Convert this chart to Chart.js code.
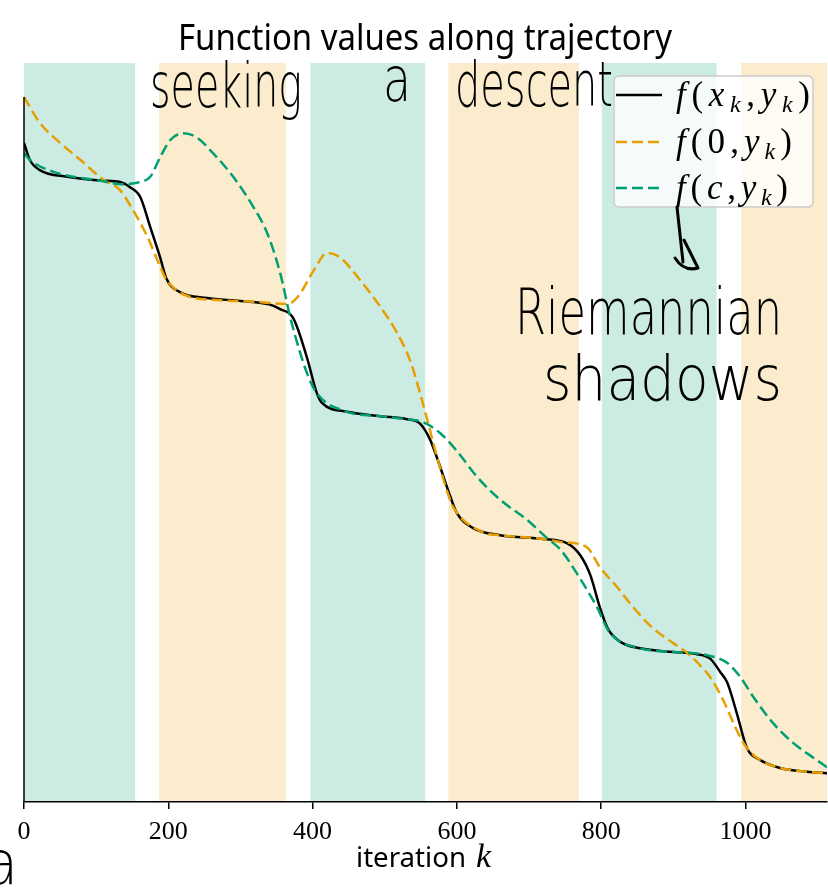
<!DOCTYPE html>
<html>
<head>
<meta charset="utf-8">
<script src="https://cdn.jsdelivr.net/npm/chart.js@4/dist/chart.umd.min.js"></script>
<style>
  html, body { margin: 0; padding: 0; background: #ffffff; }
  #wrap { width: 828px; height: 892px; position: relative; }
</style>
</head>
<body>
<div id="wrap"><canvas id="c" width="828" height="892"></canvas></div>
<script>
// ---- data ----
const iterTicks = [0, 200, 400, 600, 800, 1000];
const kMax = 1113;

// alternating phases: 'c' = f(c, y) phase, '0' = f(0, y) phase
const phaseStart = [0, 187, 397, 588, 801, 994];
const phaseEnd   = [154, 363, 556, 769, 960, 1113];
const phaseKind  = ['c', '0', 'c', '0', 'c', '0'];

// f(x_k, y_k)
const trajK = [0, 8, 22, 60, 106, 133, 147, 161, 175, 189, 197, 216, 254, 300, 341, 355, 373, 392, 406, 413,
               448, 494, 531, 549, 563, 577, 591, 600, 622, 660, 719, 753, 771, 785, 798, 809, 826, 854, 900, 933,
               951, 965, 975, 988, 1002, 1020, 1048, 1085, 1113];
const trajF = [89.2, 86.9, 85.5, 84.6, 84.1, 83.9, 83.2, 81.9, 77.8, 73.6, 70.9, 69.0, 68.2, 67.8, 67.3, 66.7, 65.5, 60.2, 55.3, 54.0,
               52.8, 52.2, 51.8, 51.2, 49.0, 45.3, 41.3, 39.1, 37.1, 36.1, 35.6, 35.0, 33.4, 30.7, 26.4, 23.5, 21.7, 20.8, 20.3, 20.0,
               19.4, 17.6, 16.1, 12.0, 7.3, 5.7, 4.6, 4.1, 3.9];

// f(0, y_k)
const zeroK = [0, 22, 50, 78, 110, 133, 151, 171, 189, 198, 226, 272, 318, 365, 379, 402, 420, 438, 466, 494,
               517, 535, 549, 559, 573, 587, 595, 636, 660, 719, 743, 780, 798, 822, 844, 872, 900, 919, 937, 951,
               969, 988, 1002, 1020, 1048, 1085, 1113];
const zeroF = [95.4, 91.9, 89.2, 86.9, 84.2, 82.8, 80.1, 76.5, 72.4, 70.6, 68.5, 67.9, 67.7, 67.4, 68.3, 72.0, 74.3, 73.7, 70.6, 67.0,
               63.5, 59.8, 55.3, 51.7, 46.5, 41.9, 39.9, 36.5, 36.1, 35.6, 35.2, 34.5, 31.8, 29.1, 26.4, 23.5, 21.5, 20.2, 18.5, 16.9,
               13.8, 9.7, 7.3, 5.7, 4.6, 4.1, 3.9];

// f(c, y_k)
const cK = [0, 8, 40, 110, 133, 161, 175, 189, 203, 221, 240, 262, 290, 318, 337, 355, 370, 392, 406, 448,
            494, 531, 553, 577, 600, 628, 660, 697, 725, 744, 771, 794, 812, 854, 900, 945, 975, 993, 1011, 1038,
            1066, 1094, 1113];
const cF = [87.8, 86.9, 85.3, 84.0, 83.6, 83.9, 84.6, 87.3, 89.6, 90.5, 89.9, 87.8, 84.6, 80.5, 77.0, 71.6, 65.2, 58.1, 55.3, 52.8,
            52.2, 51.8, 51.4, 49.9, 47.5, 44.0, 40.9, 38.2, 35.7, 34.1, 30.2, 26.4, 22.9, 20.8, 20.3, 19.9, 18.8, 16.9, 14.2, 10.7,
            8.0, 6.0, 4.7];

// ---- styling ----
const BLACK = '#000000';
const ORANGE = '#E69F00';
const GREEN = '#009E73';
const phaseFill = { c: 'rgba(0,158,115,0.2)', '0': 'rgba(230,159,0,0.2)' };
const SERIF = "'Liberation Serif', 'Times New Roman', serif";

const toPts = (ks, fs) => ks.map((k, i) => ({ x: k, y: fs[i] }));

function fitText(ctx, text, font, x, base, width) {
  ctx.save();
  ctx.font = font;
  const w = ctx.measureText(text).width;
  ctx.translate(x, base);
  ctx.scale(width / w, 1);
  ctx.fillText(text, 0, 0);
  ctx.restore();
}

// math-style label: pieces [text, font, dy], spread to a given width
function drawMath(ctx, pieces, x, base, width) {
  const ws = pieces.map(p => { ctx.font = p[1]; return ctx.measureText(p[0]).width; });
  const total = ws.reduce((a, b) => a + b, 0);
  const gap = (width - total) / (pieces.length - 1);
  let cx = x;
  pieces.forEach((p, i) => {
    ctx.font = p[1];
    ctx.fillText(p[0], cx, base + p[2]);
    cx += ws[i] + gap;
  });
}

const IT = `italic 35px ${SERIF}`;
const UP = `35px ${SERIF}`;
const SUB = `italic 24px ${SERIF}`;

const decorations = {
  id: 'decorations',
  beforeDraw(chart) {
    const { ctx, chartArea: a, scales: { x } } = chart;
    ctx.save();
    ctx.fillStyle = '#ffffff';
    ctx.fillRect(0, 0, chart.width, chart.height);
    phaseStart.forEach((s, i) => {
      const x1 = x.getPixelForValue(s);
      const x2 = x.getPixelForValue(Math.min(phaseEnd[i], kMax));
      ctx.fillStyle = phaseFill[phaseKind[i]];
      ctx.fillRect(x1, a.top, x2 - x1, a.bottom - a.top);
    });
    ctx.restore();
  },
  afterDatasetsDraw(chart) {
    const { ctx, chartArea: a, scales: { y } } = chart;
    ctx.save();
    // left spine spanning the data range
    const yTop = y.getPixelForValue(Math.max(...zeroF, ...trajF, ...cF));
    ctx.strokeStyle = BLACK;
    ctx.lineWidth = 1.5;
    ctx.beginPath();
    ctx.moveTo(a.left, yTop);
    ctx.lineTo(a.left, a.bottom);
    ctx.stroke();

    // legend
    const lx = 614, ly = 76, lw = 199, lh = 131;
    ctx.beginPath();
    ctx.roundRect(lx, ly, lw, lh, 5);
    ctx.fillStyle = 'rgba(255,255,255,0.8)';
    ctx.fill();
    ctx.strokeStyle = '#cccccc';
    ctx.lineWidth = 1.5;
    ctx.stroke();

    const rows = [
      { y: 95, color: BLACK, dash: [], width: 134,
        pieces: [['f', IT, 0], ['(', UP, 0], ['x', IT, 0], ['k', SUB, 6], [',', UP, 0],
                 ['y', IT, 0], ['k', SUB, 6], [')', UP, 0]] },
      { y: 142, color: ORANGE, dash: [11, 5], width: 116,
        pieces: [['f', IT, 0], ['(', UP, 0], ['0', UP, 0], [',', UP, 0],
                 ['y', IT, 0], ['k', SUB, 6], [')', UP, 0]] },
      { y: 188, color: GREEN, dash: [11, 5], width: 112,
        pieces: [['f', IT, 0], ['(', UP, 0], ['c', IT, 0], [',', UP, 0],
                 ['y', IT, 0], ['k', SUB, 6], [')', UP, 0]] }
    ];
    rows.forEach(r => {
      ctx.strokeStyle = r.color;
      ctx.lineWidth = 2.5;
      ctx.setLineDash(r.dash);
      ctx.beginPath();
      ctx.moveTo(616, r.y);
      ctx.lineTo(662, r.y);
      ctx.stroke();
      ctx.setLineDash([]);
      ctx.fillStyle = BLACK;
      ctx.textBaseline = 'alphabetic';
      drawMath(ctx, r.pieces, 676, r.y + 11, r.width);
    });
    ctx.restore();
  },
  afterDraw(chart) {
    const { ctx } = chart;
    ctx.save();
    ctx.fillStyle = BLACK;
    ctx.textBaseline = 'alphabetic';
    // title
    fitText(ctx, 'Function values along trajectory', '37px "Noto Sans"', 178, 50, 494);
    // axis label: "iteration k"
    fitText(ctx, 'iteration', '27px "Noto Sans"', 356, 867, 110);
    ctx.font = `italic 34px ${SERIF}`;
    ctx.fillText('k', 476, 867);

    // pen notes
    const pen = '200 62px "DejaVu Sans"';
    fitText(ctx, 'seeking', pen, 150, 107, 152);
    fitText(ctx, 'a', pen, 383, 101, 28);
    fitText(ctx, 'descent', pen, 455, 106, 158);
    fitText(ctx, 'Riemannian', '200 64px "DejaVu Sans"', 515, 334, 267);
    fitText(ctx, 'shadows', '200 62px "DejaVu Sans"', 543, 400, 239);
    fitText(ctx, 'a', '200 60px "DejaVu Sans"', -16, 884, 34);

    // pen arrow from the legend down to the note
    ctx.strokeStyle = BLACK;
    ctx.lineWidth = 3;
    ctx.lineCap = 'round';
    ctx.lineJoin = 'round';
    ctx.beginPath();
    ctx.moveTo(677, 207);
    ctx.lineTo(683, 262);
    ctx.moveTo(675, 258);
    ctx.quadraticCurveTo(684, 272, 698, 268);
    ctx.lineTo(684, 240);
    ctx.stroke();
    ctx.restore();
  }
};

new Chart(document.getElementById('c'), {
  type: 'line',
  data: {
    datasets: [
      { label: 'f(x_k, y_k)', data: toPts(trajK, trajF), borderColor: BLACK, borderWidth: 2.5,
        pointRadius: 0, cubicInterpolationMode: 'monotone', order: 3 },
      { label: 'f(0, y_k)', data: toPts(zeroK, zeroF), borderColor: ORANGE, borderWidth: 2.5,
        borderDash: [11, 5], pointRadius: 0, cubicInterpolationMode: 'monotone', order: 2 },
      { label: 'f(c, y_k)', data: toPts(cK, cF), borderColor: GREEN, borderWidth: 2.5,
        borderDash: [11, 5], pointRadius: 0, cubicInterpolationMode: 'monotone', order: 1 }
    ]
  },
  options: {
    responsive: false,
    animation: false,
    devicePixelRatio: 1,
    events: [],
    layout: { padding: { left: 24, right: 1, top: 63, bottom: 0 } },
    plugins: { legend: { display: false }, title: { display: false }, tooltip: { enabled: false } },
    scales: {
      x: {
        type: 'linear',
        min: 0,
        max: kMax,
        afterBuildTicks: s => { s.ticks = iterTicks.map(v => ({ value: v })); },
        afterFit: s => { s.height = 90; },
        ticks: { color: BLACK, font: { family: SERIF, size: 26 }, padding: 8,
                 autoSkip: false, maxRotation: 0, callback: v => String(v) },
        grid: { drawOnChartArea: false, drawTicks: true, tickLength: 7, color: BLACK, lineWidth: 1.5 },
        border: { display: true, color: BLACK, width: 1.5 }
      },
      y: { display: false, min: 0, max: 100 }
    }
  },
  plugins: [decorations]
});
</script>
</body>
</html>
